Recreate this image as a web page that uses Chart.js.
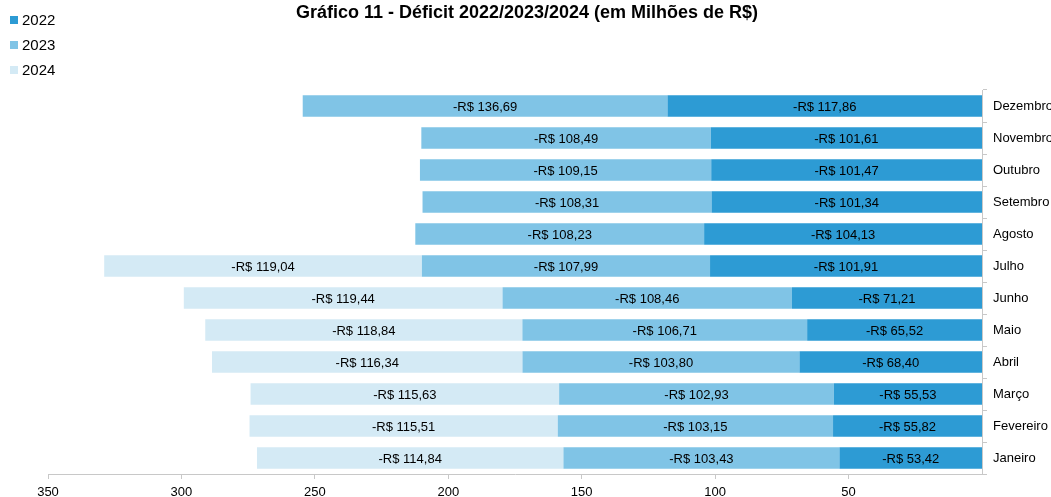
<!DOCTYPE html>
<html>
<head>
<meta charset="utf-8">
<script src="https://cdn.jsdelivr.net/npm/chart.js@4"></script>
<style>
  html, body { margin: 0; padding: 0; background: #fff; }
  #wrap { width: 1051px; height: 497px; }
</style>
</head>
<body>
<div id="wrap"><canvas id="chart"></canvas></div>
<script>
const months = ['Janeiro', 'Fevereiro', 'Março', 'Abril', 'Maio', 'Junho', 'Julho', 'Agosto', 'Setembro', 'Outubro', 'Novembro', 'Dezembro'];
const deficit2022 = [53.42, 55.82, 55.53, 68.40, 65.52, 71.21, 101.91, 104.13, 101.34, 101.47, 101.61, 117.86];
const deficit2023 = [103.43, 103.15, 102.93, 103.80, 106.71, 108.46, 107.99, 108.23, 108.31, 109.15, 108.49, 136.69];
const deficit2024 = [114.84, 115.51, 115.63, 116.34, 118.84, 119.44, 119.04, null, null, null, null, null];
const xTicks = [350, 300, 250, 200, 150, 100, 50];

const FONT = '"Liberation Sans", Arial, sans-serif';

function fmt(v) {
    return '-R$ ' + v.toFixed(2).replace('.', ',');
}

// labels in the middle of each bar segment
const barLabels = {
    id: 'barLabels',
    afterDatasetsDraw(chart) {
        const ctx = chart.ctx;
        ctx.save();
        ctx.font = '13px ' + FONT;
        ctx.fillStyle = '#000';
        ctx.textAlign = 'center';
        ctx.textBaseline = 'middle';
        chart.data.datasets.forEach((ds, i) => {
            const meta = chart.getDatasetMeta(i);
            meta.data.forEach((bar, j) => {
                const v = ds.data[j];
                if (v == null) return;
                const cx = (bar.x + bar.base) / 2;
                ctx.fillText(fmt(v), cx, bar.y + 1);
            });
        });
        ctx.restore();
    }
};

// title and legend drawn by hand, top left legend like the original
const header = {
    id: 'header',
    afterDraw(chart) {
        const ctx = chart.ctx;
        ctx.save();
        ctx.fillStyle = '#000';
        ctx.font = 'bold 18px ' + FONT;
        ctx.textAlign = 'center';
        ctx.textBaseline = 'middle';
        ctx.fillText('Gráfico 11 - Déficit 2022/2023/2024 (em Milhões de R$)', 527, 13);

        ctx.font = '15px ' + FONT;
        ctx.textAlign = 'left';
        chart.data.datasets.forEach((ds, i) => {
            const y = 20 + i * 25;
            ctx.fillStyle = ds.backgroundColor;
            ctx.fillRect(10, y - 4, 8, 8);
            ctx.fillStyle = '#000';
            ctx.fillText(ds.label, 22, y + 1);
        });
        ctx.restore();
    }
};

new Chart(document.getElementById('chart'), {
    type: 'bar',
    data: {
        labels: months,
        datasets: [
            { label: '2022', data: deficit2022, backgroundColor: '#2d9bd4' },
            { label: '2023', data: deficit2023, backgroundColor: '#80c4e6' },
            { label: '2024', data: deficit2024, backgroundColor: '#d4eaf5' }
        ]
    },
    options: {
        indexAxis: 'y',
        responsive: true,
        maintainAspectRatio: false,
        animation: false,
        layout: { padding: { top: 90, left: 48, right: 0, bottom: 0 } },
        datasets: {
            bar: { barPercentage: 0.67, categoryPercentage: 1.0 }
        },
        plugins: {
            legend: { display: false },
            title: { display: false },
            tooltip: { enabled: false }
        },
        scales: {
            x: {
                stacked: true,
                reverse: true,
                min: 0,
                max: 350,
                afterBuildTicks(scale) {
                    scale.ticks = xTicks.map(v => ({ value: v }));
                },
                afterFit(scale) { scale.height = 23; },
                grid: {
                    drawOnChartArea: false,
                    tickLength: 5,
                    color: '#c8c8c8'
                },
                border: { color: '#c8c8c8' },
                ticks: {
                    padding: 6,
                    color: '#000',
                    font: { family: FONT, size: 13 },
                    maxRotation: 0
                }
            },
            y: {
                stacked: true,
                reverse: true,
                position: 'right',
                afterFit(scale) { scale.width = 69; },
                grid: {
                    drawOnChartArea: false,
                    tickLength: 5,
                    color: '#c8c8c8'
                },
                border: { color: '#c8c8c8' },
                ticks: {
                    padding: 6,
                    color: '#000',
                    font: { family: FONT, size: 13 }
                }
            }
        }
    },
    plugins: [barLabels, header]
});
</script>
</body>
</html>
